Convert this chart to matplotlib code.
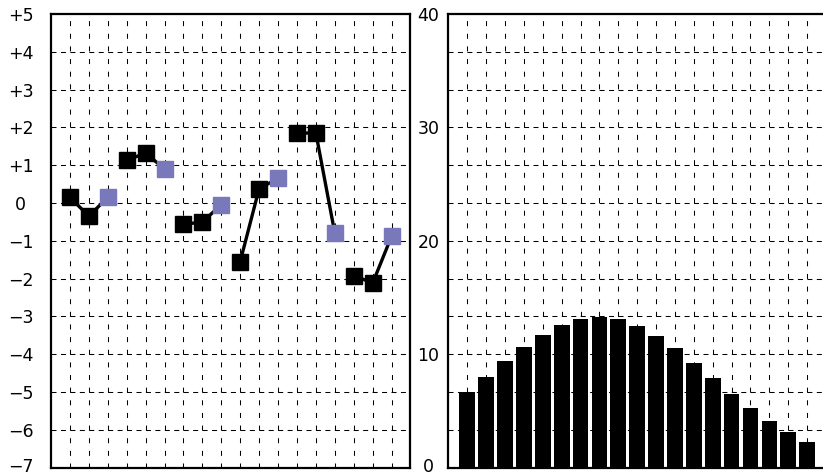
import matplotlib
matplotlib.use("Agg")
import matplotlib.pyplot as plt
import matplotlib.transforms as mtransforms
import numpy as np

plt.rcParams["font.family"] = "DejaVu Sans"
plt.rcParams["lines.scale_dashes"] = False

# left panel: groups of three points, the last of each group highlighted
group_x = [[1, 2, 3], [4, 5, 6], [7, 8, 9], [10, 11, 12], [13, 14, 15], [16, 17, 18]]
group_y = [
    [0.15, -0.35, 0.15],
    [1.13, 1.32, 0.9],
    [-0.57, -0.5, -0.05],
    [-1.55, 0.38, 0.65],
    [1.85, 1.85, -0.8],
    [-1.92, -2.12, -0.88],
]
left_ticks = list(range(-7, 6))
left_labels = ["\u22127", "\u22126", "\u22125", "\u22124", "\u22123", "\u22122", "\u22121",
               "0", "+1", "+2", "+3", "+4", "+5"]

# right panel: bar heights
bar_x = list(range(1, 20))
bar_h = [6.68, 8.0, 9.41, 10.64, 11.7, 12.58, 13.11, 13.28, 13.11, 12.52,
         11.61, 10.55, 9.23, 7.91, 6.5, 5.27, 4.12, 3.15, 2.27]
right_ticks = [0, 10, 20, 30, 40]

PURPLE = "#7878bb"
HDASH = (0, (3.6, 3.2))
VDASH = (0, (3.6, 5.5))

fig = plt.figure(figsize=(8.23, 4.75), dpi=100)
ax1 = fig.add_axes([51 / 823, 7.5 / 475, 359.5 / 823, 453.5 / 475])
ax2 = fig.add_axes([448.4 / 823, 7.5 / 475, 377.6 / 823, 453.5 / 475])


def style_grid(ax, hlines, vlines):
    for v in vlines:
        ax.axvline(v, color="black", lw=0.75, ls=VDASH, zorder=0)
    for h in hlines:
        ax.axhline(h, color="black", lw=0.75, ls=HDASH, zorder=0)
    ax.set_xticks([])
    ax.tick_params(axis="y", length=0, labelsize=12.5)
    for s in ax.spines.values():
        s.set_linewidth(1.6)


def center_labels(ax):
    labels = ax.get_yticklabels()
    for lab in labels:
        lab.set_horizontalalignment("center")
    # nudge the lowest label up so it stays inside the picture
    shift = mtransforms.ScaledTranslation(0, 2 / 72, fig.dpi_scale_trans)
    labels[0].set_transform(labels[0].get_transform() + shift)


# left
style_grid(ax1, left_ticks[1:-1], range(1, 19))
for xs, ys in zip(group_x, group_y):
    ax1.plot(xs, ys, color="black", lw=2.4, zorder=2)
    ax1.plot(xs[:2], ys[:2], "s", color="black", ms=11, zorder=3)
    ax1.plot(xs[2:], ys[2:], "s", color=PURPLE, ms=11, zorder=3)
ax1.set_xlim(0, 19)
ax1.set_ylim(-7, 5)
ax1.set_yticks(left_ticks)
ax1.set_yticklabels(left_labels)
ax1.tick_params(axis="y", pad=22)
center_labels(ax1)

# right
style_grid(ax2, np.arange(1, 12) * 40 / 12, range(1, 20))
ax2.bar(bar_x, bar_h, width=0.83, color="black", zorder=2)
ax2.set_xlim(0, 20)
ax2.set_ylim(0, 40)
ax2.set_yticks(right_ticks)
ax2.set_yticklabels([str(t) for t in right_ticks])
ax2.tick_params(axis="y", pad=14.4)
center_labels(ax2)
ax2.spines["right"].set_visible(False)

fig.savefig("out.png", dpi=100)
